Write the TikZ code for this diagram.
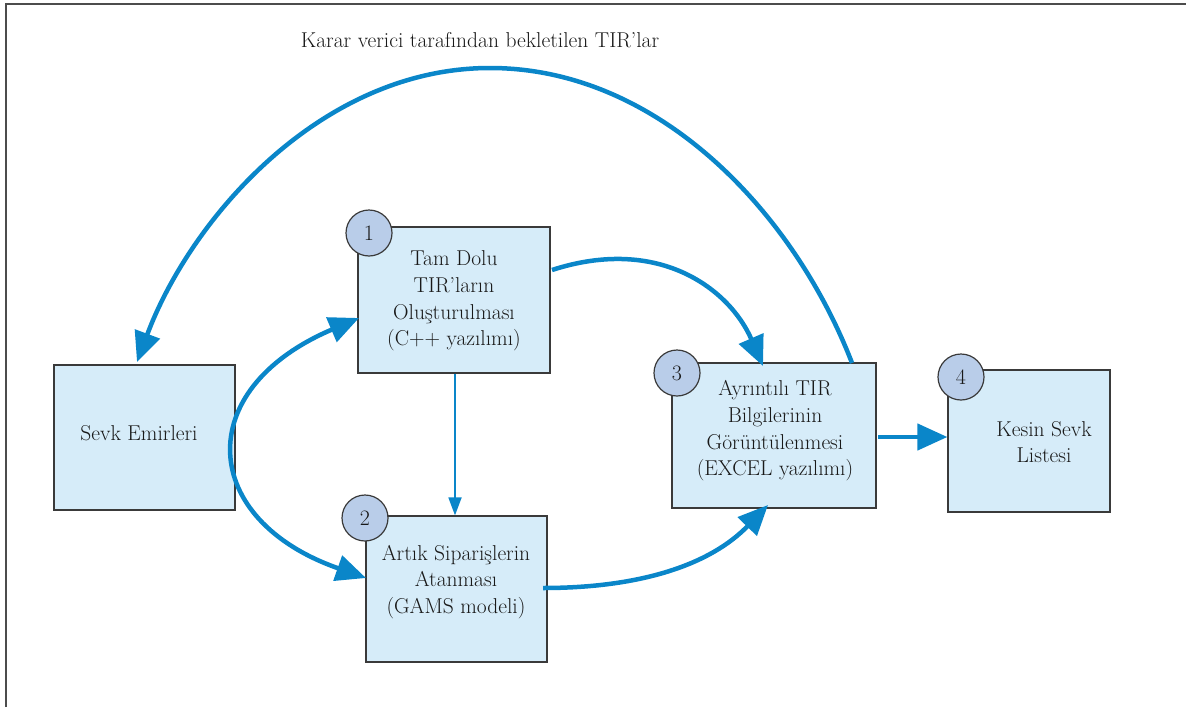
\documentclass[tikz,border=0pt]{standalone}
\usepackage{fontspec}
\usetikzlibrary{arrows.meta}
\definecolor{boxfill}{HTML}{D6ECF9}
\definecolor{boxline}{HTML}{3A3A3A}
\definecolor{numfill}{HTML}{B9CDE9}
\definecolor{flow}{HTML}{0A86C9}
\begin{document}
\begin{tikzpicture}[x=1pt,y=-1pt,
  stepbox/.style={draw=boxline, line width=1.2pt, fill=boxfill, inner sep=0pt},
  steptext/.style={align=center, inner sep=0pt, font=\fontsize{21.5}{26.7}\selectfont, text=black!90},
  numcirc/.style={circle, draw=boxline, line width=1.2pt, fill=numfill, minimum size=46pt, inner sep=0pt,
    font=\fontsize{22}{24}\selectfont, text=black!90},
  bigflow/.style={draw=flow, line width=4.5pt, -{Triangle[length=30pt,width=26pt]}},
  thinflow/.style={draw=flow, line width=1.8pt, -{Triangle[length=18pt,width=13pt]}}]
\useasboundingbox (0,0) rectangle (1186,707);
\draw[draw=gray!60!black, line width=1.6pt] (6,707) -- (6,4) -- (1186,4);

\node[stepbox, minimum width=181pt, minimum height=145pt] (s) at (144.5,437.5) {};
\node[stepbox, minimum width=192pt, minimum height=146pt] (b1) at (454,300) {};
\node[stepbox, minimum width=181pt, minimum height=146pt] (b2) at (456.5,589) {};
\node[stepbox, minimum width=204pt, minimum height=145pt] (b3) at (774,435.5) {};
\node[stepbox, minimum width=162pt, minimum height=142pt] (b4) at (1029,441) {};

\node[steptext] (st) at (139,433) {Sevk Emirleri};
\node[steptext] (b1t) at (454,301) {Tam Dolu\\TIR'ların\\Oluşturulması\\(C++ yazılımı)};
\node[steptext] (b2t) at (456,582) {Artık Siparişlerin\\Atanması\\(GAMS modeli)};
\node[steptext] (b3t) at (775,431) {Ayrıntılı TIR\\Bilgilerinin\\Görüntülenmesi\\(EXCEL yazılımı)};
\node[steptext] (b4t) at (1044,442) {Kesin Sevk\\Listesi};

\node[numcirc] (n1) at (369,233) {1};
\node[numcirc] (n2) at (365,518) {2};
\node[numcirc] (n3) at (677,373) {3};
\node[numcirc] (n4) at (961,377) {4};

\node[font=\fontsize{21.5}{24}\selectfont, text=black!90] (lbl) at (480,40) {Karar verici tarafından bekletilen TIR'lar};

\coordinate (a0) at (852,363);
\coordinate (a1) at (137,362);
\draw[bigflow] (a0) .. controls (795,215) and (660,68) .. (490,68) .. controls (320,68) and (190,220) .. (a1);

\coordinate (c0) at (552,270);
\coordinate (c1) at (763,366);
\draw[bigflow] (c0) .. controls (660,235) and (730,290) .. (c1);

\draw[thinflow] (b1.south) ++(1,0) coordinate (d0) -- (d0 |- b2.north);

\coordinate (e0) at (359,318);
\coordinate (e1) at (366,578);
\draw[bigflow, {Triangle[length=30pt,width=26pt]}-{Triangle[length=30pt,width=26pt]}] (e0) .. controls (190,390) and (200,520) .. (e1);

\coordinate (f0) at (543,588);
\coordinate (f1) at (768,505);
\draw[bigflow] (f0) .. controls (640,588) and (710,565) .. (f1);

\coordinate (g0) at (878,437);
\draw[bigflow] (g0) -- (g0 -| b4.west);
\end{tikzpicture}
\end{document}
